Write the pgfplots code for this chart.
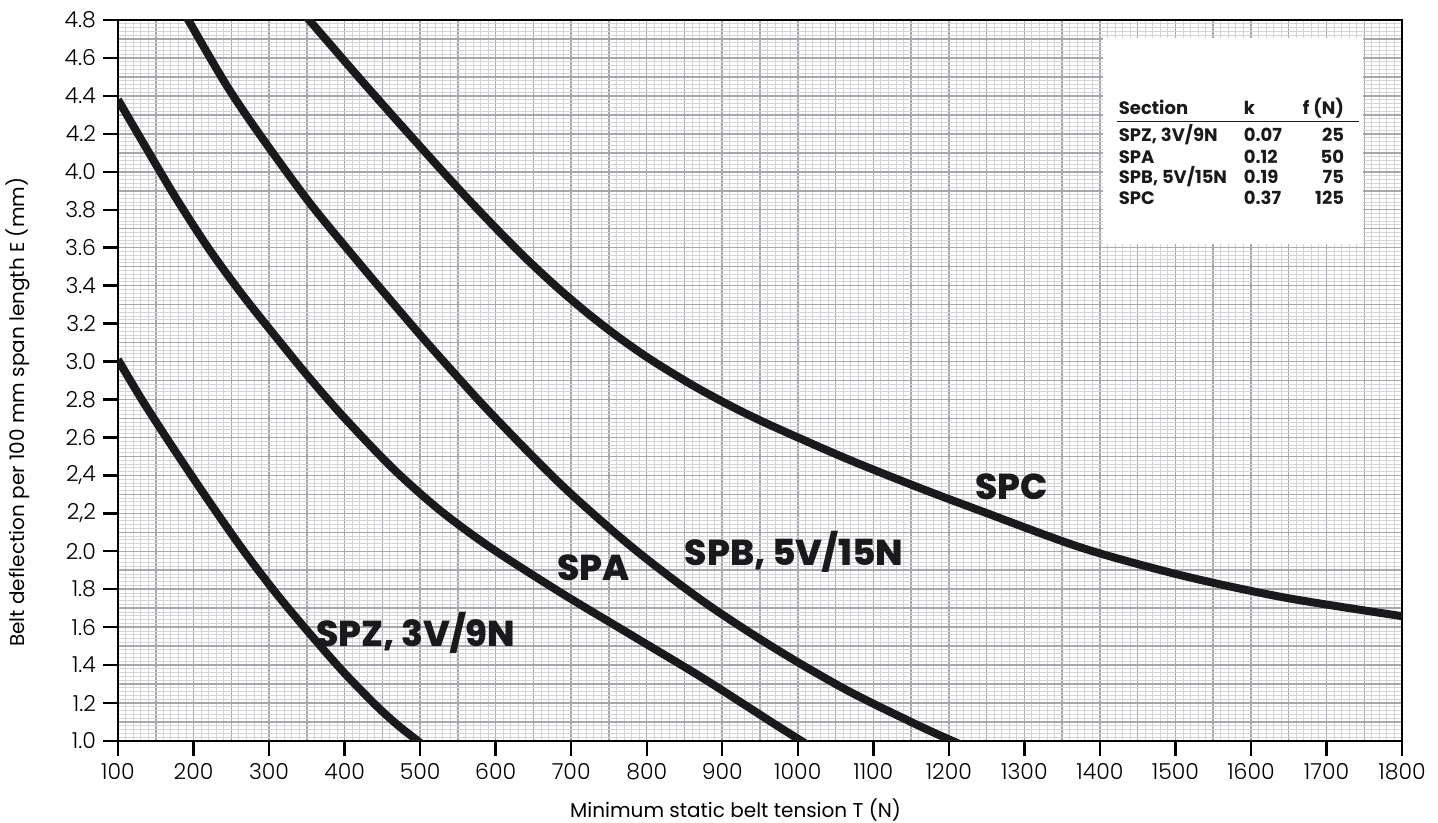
\documentclass[border=0pt]{standalone}
\usepackage{pgfplots}
\pgfplotsset{compat=1.18}
\usepackage{fontspec}
\setmainfont{Poppins}
\IfFontExistsTF{Poppins Light}{\newfontfamily\lightfont{Poppins Light}}{\newfontfamily\lightfont{Poppins}}
\IfFontExistsTF{Poppins ExtraBold}{\newfontfamily\heavyfont{Poppins ExtraBold}}{\newfontfamily\heavyfont{Poppins Bold}}
\definecolor{curve}{HTML}{1A1A1D}
\definecolor{gmaj}{HTML}{A8A8AC}
\definecolor{gmin}{HTML}{D4D4D8}
\begin{document}
\begin{tikzpicture}
\path[use as bounding box] (-59pt,-41pt) rectangle (660pt,370.5pt);
\begin{axis}[
 at={(0,0)}, anchor=south west,
 scale only axis, width=642pt, height=360.5pt,
 xmin=100, xmax=1800, ymin=1, ymax=4.8,
 xtick={100,150,200,250,300,350,400,450,500,550,600,650,700,750,800,850,900,950,1000,1050,1100,1150,1200,1250,1300,1350,1400,1450,1500,1550,1600,1650,1700,1750,1800},
 ytick={1.0,1.1,1.2,1.3,1.4,1.5,1.6,1.7,1.8,1.9,2.0,2.1,2.2,2.3,2.4,2.5,2.6,2.7,2.8,2.9,3.0,3.1,3.2,3.3,3.4,3.5,3.6,3.7,3.8,3.9,4.0,4.1,4.2,4.3,4.4,4.5,4.6,4.7,4.8},
 xticklabels={}, yticklabels={},
 minor x tick num=4, minor y tick num=4,
 grid=both,
 major grid style={gmaj, line width=0.75pt},
 minor grid style={gmin, line width=0.45pt},
 major tick length=0pt, minor tick length=0pt,
 extra x ticks={100,200,300,400,500,600,700,800,900,1000,1100,1200,1300,1400,1500,1600,1700,1800},
 extra x tick labels={100,200,300,400,500,600,700,800,900,1000,1100,1200,1300,1400,1500,1600,1700,1800},
 extra y ticks={1.0,1.2,1.4,1.6,1.8,2.0,2.2,2.4,2.6,2.8,3.0,3.2,3.4,3.6,3.8,4.0,4.2,4.4,4.6,4.8},
 extra y tick labels={1.0,1.2,1.4,1.6,1.8,2.0,{2,2},{2,4},2.6,2.8,3.0,3.2,3.4,3.6,3.8,4.0,4.2,4.4,4.6,4.8},
 extra tick style={grid=none, major tick length=7.5pt, tick style={black, line width=1.2pt}},
 tick align=outside, tick pos=left,
 axis line style={black, line width=1.3pt},
 ticklabel style={font=\lightfont\fontsize{11}{13}\selectfont},
 xlabel={Minimum static belt tension T (N)},
 ylabel={Belt deflection per 100 mm span length E (mm)},
 label style={font=\lightfont\fontsize{10.4}{12}\selectfont},
 every axis x label/.style={at={(axis description cs:0.481,-0.0957)}, anchor=center},
 every axis y label/.style={at={(axis description cs:-0.0779,0.456)}, anchor=center, rotate=90},
 clip=true,
]
% SPZ, 3V/9N
\addplot[curve, line width=4pt, smooth, line join=round] coordinates {
(100,3.01) (133,2.79) (177,2.52) (221,2.26) (265,2.01) (309,1.78) (353,1.57)
(397,1.37) (441,1.19) (470,1.085) (497,1.0) (506,0.97)};
% SPA
\addplot[curve, line width=4pt, smooth, line join=round] coordinates {
(100,4.38) (133,4.155) (177,3.86) (221,3.59) (265,3.35) (309,3.13) (350,2.93)
(397,2.715) (463,2.44) (525,2.22) (593,2.02) (687,1.78) (781,1.555) (875,1.33)
(969,1.09) (1005,1.0) (1017,0.97)};
% SPB, 5V/15N
\addplot[curve, line width=4pt, smooth, line join=round] coordinates {
(187,4.84) (193,4.80) (243,4.46) (287,4.20) (353,3.84) (419,3.52) (485,3.21)
(529,3.01) (593,2.73) (687,2.35) (781,2.02) (875,1.735) (969,1.49) (1064,1.27)
(1158,1.085) (1205,1.0) (1220,0.975)};
% SPC
\addplot[curve, line width=4pt, smooth, line join=round] coordinates {
(346,4.83) (353,4.80) (420,4.492) (485,4.20) (550,3.914) (600,3.704) (640,3.544)
(680,3.396) (720,3.26) (760,3.136) (800,3.024) (840,2.924) (875,2.843) (920,2.748)
(969,2.655) (1064,2.489) (1158,2.339) (1240,2.216) (1377,2.017) (1511,1.87)
(1646,1.755) (1800,1.658)};
% curve labels
\node[font=\heavyfont\fontsize{18}{20}\selectfont, text=curve] at (axis cs:494,1.57) {SPZ, 3V/9N};
\node[font=\heavyfont\fontsize{18}{20}\selectfont, text=curve] at (axis cs:730,1.915) {SPA};
\node[font=\heavyfont\fontsize{18}{20}\selectfont, text=curve] at (axis cs:995,1.995) {SPB, 5V/15N};
\node[font=\heavyfont\fontsize{18}{20}\selectfont, text=curve] at (axis cs:1283,2.34) {SPC};
% table inset
\fill[white] (axis cs:1404.7,3.619) rectangle (axis cs:1748.9,4.705);
\draw[curve, line width=0.6pt] (axis cs:1423,4.267) -- (axis cs:1743.4,4.267);
\begin{scope}[every node/.style={inner sep=0pt, font=\bfseries\fontsize{9}{11}\selectfont, text=curve}]
\node[anchor=base west] at (axis cs:1424.6,4.304) {Section};
\node[anchor=base west] at (axis cs:1590,4.304) {k};
\node[anchor=base east] at (axis cs:1723.7,4.304) {f (N)};
\node[anchor=base west] at (axis cs:1424.6,4.157) {SPZ, 3V/9N};
\node[anchor=base west] at (axis cs:1590,4.157) {0.07};
\node[anchor=base east] at (axis cs:1723.7,4.157) {25};
\node[anchor=base west] at (axis cs:1424.6,4.046) {SPA};
\node[anchor=base west] at (axis cs:1590,4.046) {0.12};
\node[anchor=base east] at (axis cs:1723.7,4.046) {50};
\node[anchor=base west] at (axis cs:1424.6,3.940) {SPB, 5V/15N};
\node[anchor=base west] at (axis cs:1590,3.940) {0.19};
\node[anchor=base east] at (axis cs:1723.7,3.940) {75};
\node[anchor=base west] at (axis cs:1424.6,3.830) {SPC};
\node[anchor=base west] at (axis cs:1590,3.830) {0.37};
\node[anchor=base east] at (axis cs:1723.7,3.830) {125};
\end{scope}
\end{axis}
\end{tikzpicture}
\end{document}
